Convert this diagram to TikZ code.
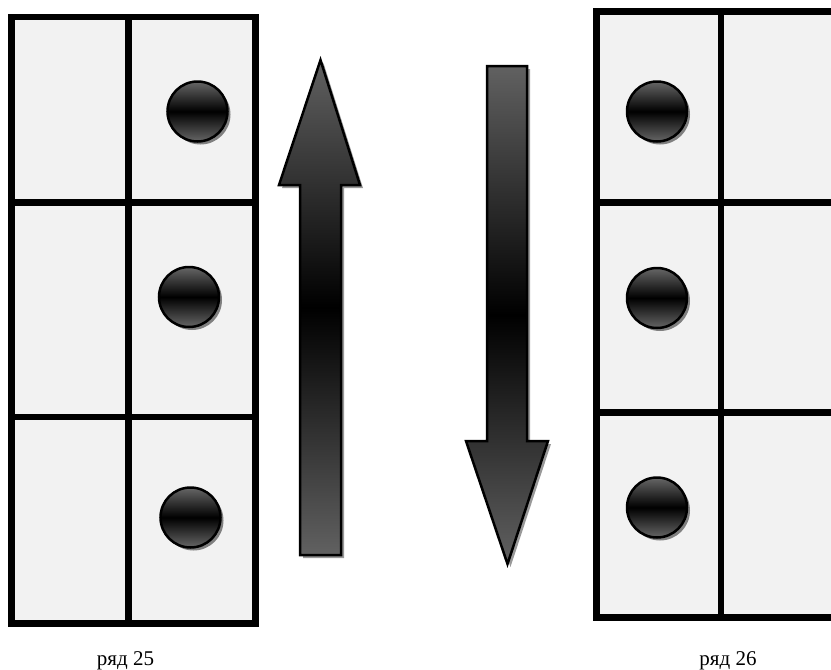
\documentclass[tikz,border=0pt]{standalone}
\usepackage{fontspec}
\setmainfont{Liberation Serif}
\usetikzlibrary{shadows}

\begin{document}
\begin{tikzpicture}[x=1pt, y=-1pt]
  \tikzstyle{frame} = [fill=black!5, draw, line width=6.5pt]
  \tikzstyle{bar} = [draw, line width=6.5pt]
  \tikzstyle{ball} = [circle, draw, line width=2.5pt, minimum size=60pt, inner sep=0pt,
    drop shadow={shadow xshift=3pt, shadow yshift=-3pt, fill=black!50, opacity=1},
    top color=black!60, bottom color=black!60, middle color=black]
  \tikzstyle{bigarrow} = [draw, line width=2.5pt, line join=miter,
    drop shadow={shadow xshift=3pt, shadow yshift=-3pt, fill=black!40, opacity=1},
    top color=black!62, bottom color=black!62, middle color=black]
  \tikzstyle{caption} = [font=\fontsize{21}{25}\selectfont, anchor=base]

  \useasboundingbox (0,0) rectangle (831,670);
  \clip (0,0) rectangle (831,670);

  % row 25
  \draw[frame] (11.5,17) rectangle (255.5,623.5);
  \draw[bar] (128.5,17) -- (128.5,623.5);
  \draw[bar] (11.5,202.5) -- (252,202.5);
  \draw[bar] (11.5,417) -- (255.5,417);
  \node[ball] (a1) at (197.5,111.5) {};
  \node[ball] (a2) at (189,297) {};
  \node[ball] (a3) at (190.5,517.5) {};

  % row 26
  \draw[frame] (596.5,11.5) rectangle (845,617.5);
  \draw[bar] (721,11.5) -- (721,617.5);
  \draw[bar] (596.5,202.5) -- (845,202.5);
  \draw[bar] (596.5,412.5) -- (845,412.5);
  \node[ball] (b1) at (657,111.5) {};
  \node[ball] (b2) at (657,298) {};
  \node[ball] (b3) at (657,507.5) {};

  % arrows
  \path[bigarrow] (300,555) -- (300,185) -- (279,185) -- (320.5,60) -- (360,185)
    -- (341,185) -- (341,555) -- cycle;
  \path[bigarrow] (487,66) -- (527,66) -- (527,441) -- (548,441) -- (507.5,564)
    -- (466,441) -- (487,441) -- cycle;

  \node[caption] (lbl25) at (125.5,665) {ряд 25};
  \node[caption] (lbl26) at (728,665) {ряд 26};
\end{tikzpicture}
\end{document}
